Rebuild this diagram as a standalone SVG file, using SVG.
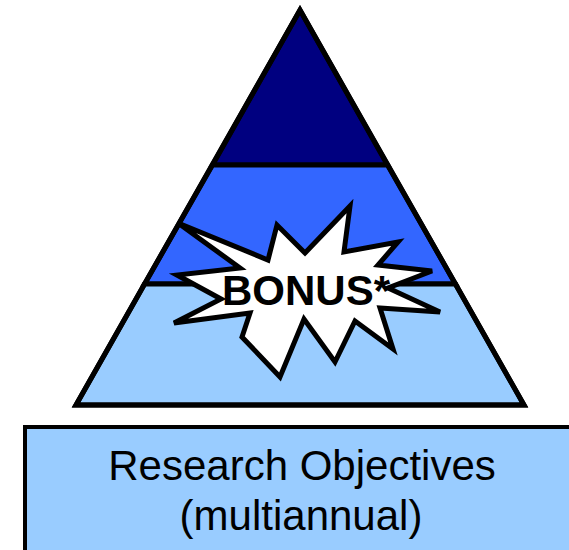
<svg xmlns="http://www.w3.org/2000/svg" width="569" height="550" viewBox="0 0 569 550">
<style>
.band{stroke:#000;stroke-width:5;stroke-linejoin:miter}
.lbl{font-family:"Liberation Sans",Arial,sans-serif;fill:#000}
</style>
<rect width="569" height="550" fill="#fff"/>
<g id="pyramid">
<polygon class="band" points="300,10 212.5,165 387.5,165" fill="#000080"/>
<polygon class="band" points="212.5,165 387.5,165 455.5,284 144.5,284" fill="#3366FF"/>
<polygon class="band" points="144.5,284 455.5,284 524,405 76,405" fill="#99CCFF"/>
<polygon points="300,10 524,405 76,405" fill="none" stroke="#000" stroke-width="5" stroke-linejoin="miter"/>
</g>
<g id="bonus">
<polygon points="178,223 268,260 277,225 305,253 350,206 344,252 398,242 378,265 432,271 388,288 440,312 380,308 393,349 355,321 335,362 304,319 280,377 242,337 250,313 174,323 221,299 177,275 240,268" fill="#fff" stroke="#000" stroke-width="5" stroke-linejoin="miter"/>
<text class="lbl" x="222" y="305" font-size="42" font-weight="bold">BONUS*</text>
</g>
<g id="objectives">
<rect x="25" y="427" width="560" height="140" fill="#99CCFF" stroke="#000" stroke-width="4"/>
<text class="lbl" x="302" y="480" font-size="42" text-anchor="middle">Research Objectives</text>
<text class="lbl" x="301" y="530" font-size="42" text-anchor="middle">(multiannual)</text>
</g>
<g id="connectors"/>
</svg>
